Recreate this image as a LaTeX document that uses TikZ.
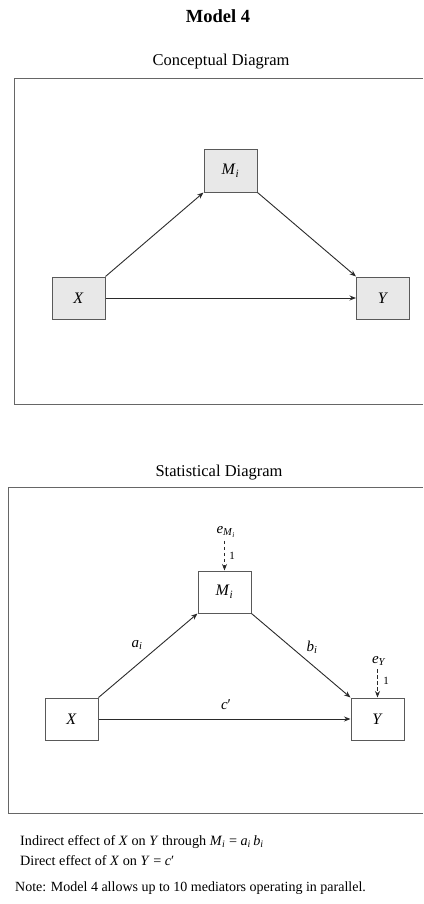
\documentclass[tikz,border=0pt]{standalone}
\usepackage{fontspec}
\setmainfont{Liberation Serif}
\usetikzlibrary{arrows.meta}
\definecolor{boxfill}{HTML}{E8E8E8}
\definecolor{linec}{HTML}{2A2A2A}
\definecolor{framec}{HTML}{666666}
\newcommand{\iv}[1]{\textit{#1}}
\newcommand{\isub}[2]{\textit{#1}\textsubscript{\textit{#2}}}
\begin{document}
\begin{tikzpicture}[x=1pt,y=-1pt,
  cbox/.style={draw=black!65, fill=boxfill, minimum width=53pt, minimum height=42pt, inner sep=0pt, line width=1pt, font=\fontsize{16}{18}\selectfont},
  sbox/.style={cbox, fill=white},
  arr/.style={draw=linec, line width=0.9pt, -{Stealth[length=6.5pt,width=5pt]}},
  darr/.style={arr, dash pattern=on 3.5pt off 2.5pt},
  frame/.style={draw=framec, line width=1pt},
  lab/.style={font=\fontsize{15}{17}\selectfont},
  small/.style={font=\fontsize{11}{13}\selectfont},
  heading/.style={font=\fontsize{16.5}{19}\selectfont},
  body/.style={font=\fontsize{14.2}{17}\selectfont, anchor=west, inner sep=0pt}]
\useasboundingbox (0,0) rectangle (423,904);

% titles
\node[font=\fontsize{18.5}{21}\selectfont\bfseries] (title) at (218,16) {Model 4};
\node[heading] (ct) at (221,62) {Conceptual Diagram};
\draw[frame] (423,79) -| (14,404) -- (423,404);

% conceptual diagram
\node[cbox] (M1) at (230.5,171) {\isub{M}{i}};
\node[cbox] (X1) at (78.5,298) {\iv{X}};
\node[cbox] (Y1) at (383,298) {\iv{Y}};
\draw[arr] (X1.north east) -- (M1.south west);
\draw[arr] (M1.south east) -- (Y1.north west);
\draw[arr] (X1.east) -- (Y1.west);

% statistical diagram
\node[heading] (st) at (219,473) {Statistical Diagram};
\draw[frame] (423,487) -| (8,813) -- (423,813);

\node[sbox] (M2) at (224.5,592) {\isub{M}{i}};
\node[sbox] (X2) at (71.5,719) {\iv{X}};
\node[sbox] (Y2) at (377.5,719) {\iv{Y}};
\node[lab] (eM) at (226,532) {\textit{e}\textsubscript{\textit{M}\textsubscript{\textit{i}}}};
\node[lab] (eY) at (379,661) {\isub{e}{Y}};
\draw[darr] (M2.north |- eM.south) -- (M2.north);
\draw[darr] (Y2.north |- eY.south) -- (Y2.north);
\node[small] (oneM) at (232,556) {1};
\node[small] (oneY) at (386,681) {1};
\draw[arr] (X2.north east) -- (M2.south west);
\draw[arr] (M2.south east) -- (Y2.north west);
\draw[arr] (X2.east) -- (Y2.west);
\node[lab] (a) at (137,645) {\isub{a}{i}};
\node[lab] (b) at (312,647) {\isub{b}{i}};
\node[lab] (c) at (226,705) {\iv{c}′};

% notes
\node[body] (ind) at (20,842) {Indirect effect of \iv{X} on \iv{Y} through \isub{M}{i} = \isub{a}{i}\,\isub{b}{i}};
\node[body] (dir) at (20,861) {Direct effect of \iv{X} on \iv{Y} = \iv{c}′};
\node[body, font=\fontsize{14}{15}\selectfont] (note) at (15,888) {Note: Model 4 allows up to 10 mediators operating in parallel.};
\end{tikzpicture}
\end{document}
